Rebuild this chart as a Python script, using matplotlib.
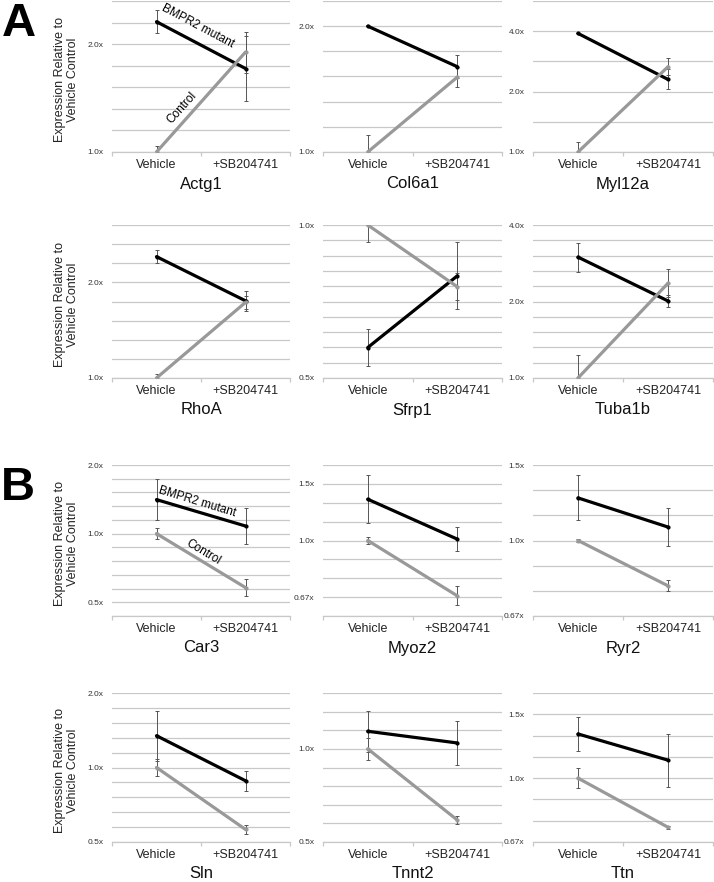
import numpy as np
import matplotlib
matplotlib.use('Agg')
import matplotlib.pyplot as plt
from matplotlib.ticker import FixedLocator, FixedFormatter, NullFormatter

plt.rcParams['font.family'] = ['Liberation Sans', 'DejaVu Sans']

# Data: fold change relative to vehicle control, error bars as multiplicative factors
genes = ['Actg1', 'Col6a1', 'Myl12a', 'RhoA', 'Sfrp1', 'Tuba1b',
         'Car3', 'Myoz2', 'Ryr2', 'Sln', 'Tnnt2', 'Ttn']
conditions = ['Vehicle', '+SB204741']

mutant_fold = [[2.31, 1.71], [2.00, 1.60], [3.90, 2.30], [2.41, 1.75],
               [0.574, 0.794], [2.99, 2.01], [1.41, 1.08], [1.344, 1.01],
               [1.257, 1.075], [1.344, 0.884], [1.14, 1.045], [1.324, 1.121]]
mutant_err = [[1.075, 1.236], [1.0, 1.065], [1.0, 1.121], [1.049, 1.075],
              [1.088, 1.164], [1.141, 1.057], [1.231, 1.194], [1.188, 1.087],
              [1.128, 1.106], [1.26, 1.10], [1.163, 1.18], [1.112, 1.183]]
control_fold = [[1.0, 1.90], [1.0, 1.51], [1.0, 2.66], [1.0, 1.73],
                [1.0, 0.756], [1.0, 2.36], [1.0, 0.58], [1.0, 0.673],
                [1.0, 0.784], [1.0, 0.562], [1.0, 0.589], [1.0, 0.732]]
control_err = [[1.037, 1.141], [1.098, 1.056], [1.117, 1.10], [1.032, 1.05],
               [1.081, 1.063], [1.228, 1.137], [1.058, 1.087], [1.029, 1.069],
               [1.01, 1.031], [1.08, 1.041], [1.085, 1.032], [1.064, 1.01]]

# axis settings per panel: log base, exponent range, gridline step, labelled exponents
log_base = [2, 2, 2, 2, 2, 2, 2, 1.5, 1.5, 2, 2, 1.5]
exp_lo = [0, 0, 0, 0, -1, 0, -1.2, -4/3, -1, -1, -1, -1]
exp_hi = [1.4, 1.2, 2.5, 1.6, 0, 2, 1, 4/3, 1, 1, 0.6, 4/3]
exp_step = [0.2, 0.2, 0.5, 0.2, 0.1, 0.2, 0.2, 1/3, 1/3, 0.2, 0.2, 1/3]
tick_exps = [[0, 1], [0, 1], [0, 1, 2], [0, 1], [-1, 0], [0, 1, 2],
             [-1, 0, 1], [-1, 0, 1], [-1, 0, 1], [-1, 0, 1], [-1, 0], [-1, 0, 1]]
tick_labels = [['1.0x', '2.0x'], ['1.0x', '2.0x'], ['1.0x', '2.0x', '4.0x'],
               ['1.0x', '2.0x'], ['0.5x', '1.0x'], ['1.0x', '2.0x', '4.0x'],
               ['0.5x', '1.0x', '2.0x'], ['0.67x', '1.0x', '1.5x'],
               ['0.67x', '1.0x', '1.5x'], ['0.5x', '1.0x', '2.0x'],
               ['0.5x', '1.0x'], ['0.67x', '1.0x', '1.5x']]

W, H = 714, 882
fig = plt.figure(figsize=(W / 100, H / 100), dpi=100)

col_x = [(112, 290), (323, 502), (533, 713)]
row_y = [(1, 152), (225, 378), (465, 616), (693, 842)]

grid_c = '#c8c8c8'
axes = []
for i, gene in enumerate(genes):
    r, c = divmod(i, 3)
    x0, x1 = col_x[c]
    y0, y1 = row_y[r]
    ax = fig.add_axes([x0 / W, 1 - y1 / H, (x1 - x0) / W, (y1 - y0) / H])
    axes.append(ax)
    b = log_base[i]
    ax.set_yscale('log', base=b)
    ax.set_ylim(b ** exp_lo[i], b ** exp_hi[i])
    ax.set_xlim(-0.5, 1.5)

    n = int(round((exp_hi[i] - exp_lo[i]) / exp_step[i]))
    grid_vals = [b ** (exp_lo[i] + k * exp_step[i]) for k in range(n + 1)]
    for g in grid_vals:
        ax.axhline(g, color=grid_c, lw=0.9, zorder=0)

    ax.yaxis.set_major_locator(FixedLocator([b ** e for e in tick_exps[i]]))
    ax.yaxis.set_major_formatter(FixedFormatter(tick_labels[i]))
    ax.yaxis.set_minor_locator(FixedLocator([]))
    ax.yaxis.set_minor_formatter(NullFormatter())
    ax.tick_params(axis='y', length=0, pad=6, labelsize=6, labelcolor='#333333')

    ax.set_xticks([0, 1])
    ax.set_xticklabels(conditions)
    ax.set_xticks([-0.5, 0.5, 1.5], minor=True)
    ax.tick_params(axis='x', which='major', length=0, pad=5, labelsize=9, labelcolor='#222222')
    ax.tick_params(axis='x', which='minor', length=3, color=grid_c, width=0.9)
    ax.set_xlabel(gene, fontsize=12, labelpad=4, color='#111111')

    for s in ['top', 'left', 'right']:
        ax.spines[s].set_visible(False)
    ax.spines['bottom'].set_color(grid_c)
    ax.spines['bottom'].set_linewidth(0.9)

    x = np.arange(2)
    m = np.array(mutant_fold[i])
    me = np.array(mutant_err[i])
    ct = np.array(control_fold[i])
    ce = np.array(control_err[i])
    ax.errorbar(x, m, yerr=[m - m / me, m * me - m], fmt='none', ecolor='#555555',
                elinewidth=0.7, capsize=1.5, capthick=0.7, zorder=2)
    ax.errorbar(x, ct, yerr=[ct - ct / ce, ct * ce - ct], fmt='none', ecolor='#555555',
                elinewidth=0.7, capsize=1.5, capthick=0.7, zorder=2)
    ax.plot(x, m, color='black', lw=2.3, marker='o', ms=2, zorder=3,
            solid_capstyle='round')
    ax.plot(x, ct, color='#999999', lw=2.3, marker='o', ms=2, zorder=4,
            solid_capstyle='round')

    if c == 0:
        ax.set_ylabel('Expression Relative to\nVehicle Control', fontsize=9,
                      color='#222222', linespacing=1.1)
        ax.yaxis.set_label_coords(-0.185, 0.48)

# series labels on first panel of each block
axes[0].text(0.46, 2.24, 'BMPR2 mutant', rotation=-28, ha='center', va='center', fontsize=8.5)
axes[0].text(0.29, 1.33, 'Control', rotation=48, ha='center', va='center', fontsize=8.5)
axes[6].text(0.46, 1.38, 'BMPR2 mutant', rotation=-17, ha='center', va='center', fontsize=8.5)
axes[6].text(0.53, 0.83, 'Control', rotation=-31, ha='center', va='center', fontsize=8.5)

fig.text(19 / W, 1 - 24 / H, 'A', fontsize=34, fontweight='bold', ha='center', va='center')
fig.text(18 / W, 1 - 488 / H, 'B', fontsize=34, fontweight='bold', ha='center', va='center')

fig.savefig('out.png', dpi=100)
